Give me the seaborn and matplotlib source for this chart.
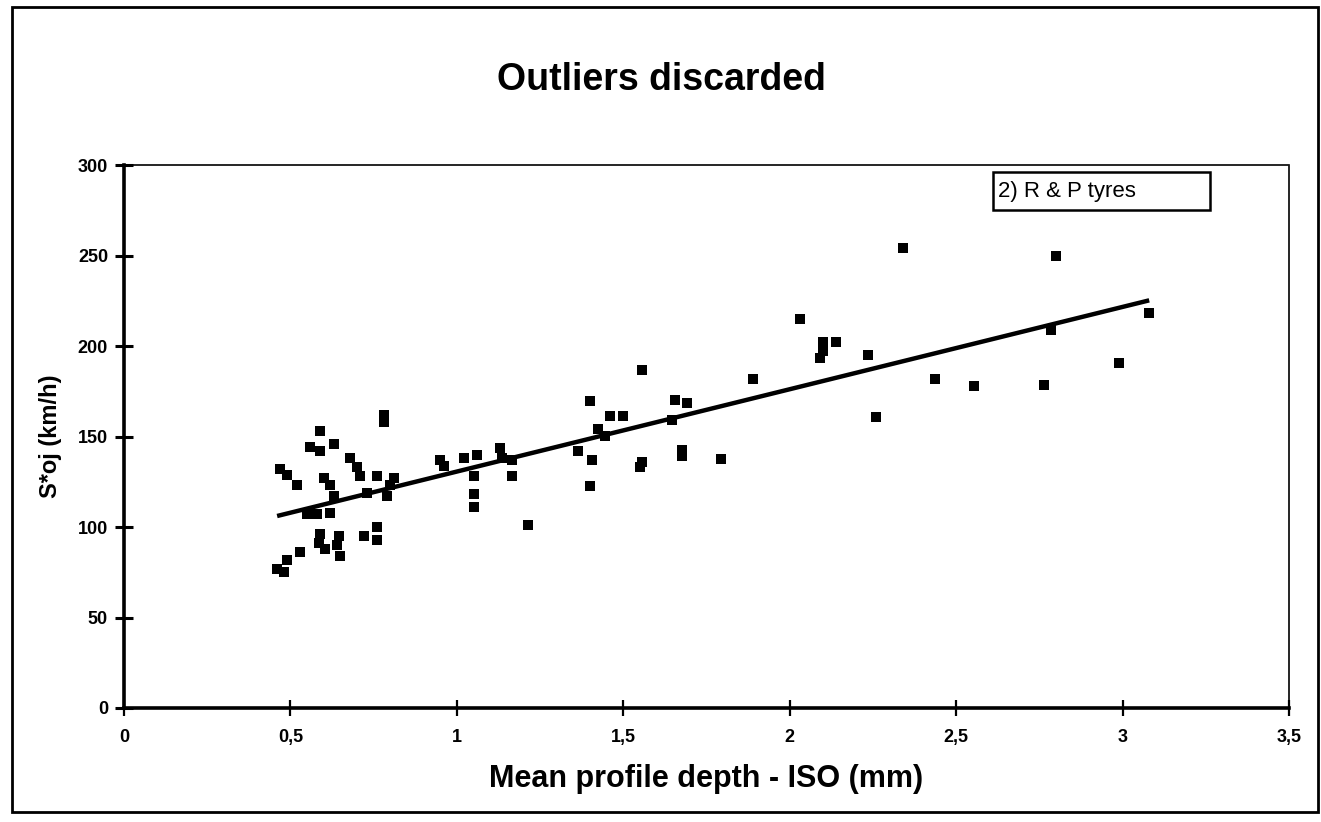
import matplotlib
matplotlib.use("Agg")
import matplotlib.pyplot as plt
from matplotlib.patches import Rectangle
import seaborn as sns
import pandas as pd

# ---- data ----
depth = [0.78, 0.78, 0.59, 0.63, 0.56, 0.59, 0.68, 0.70, 0.47, 0.49, 0.71, 0.76,
         0.81, 0.60, 0.62, 0.52, 0.80, 0.79, 0.73, 0.63, 0.55, 0.58, 0.62, 0.59,
         0.645, 0.585, 0.605, 0.64, 0.72, 0.76, 0.76, 0.65, 0.53, 0.49, 0.46, 0.48,
         1.40, 1.46, 1.50, 1.425, 1.445, 0.95, 0.96, 1.02, 1.06, 1.13, 1.135, 1.165,
         1.05, 1.165, 1.05, 1.05, 1.365, 1.405, 1.40, 1.55, 1.555, 1.215,
         2.34, 2.03, 2.10, 2.14, 2.10, 2.09, 2.235, 1.555, 1.89, 2.435, 1.655, 1.69,
         1.645, 2.26, 1.675, 1.675, 1.795,
         2.80, 3.08, 2.785, 2.99, 2.555, 2.765]
speed = [162, 158, 153, 146, 144, 142, 138, 133, 132, 129, 128, 128,
         127, 127, 123, 123, 123, 117, 119, 117, 107, 107, 108, 96,
         95, 91, 88, 90, 95, 100, 93, 84, 86, 82, 77, 75,
         169.5, 161.5, 161.5, 154, 150.5, 137, 133.5, 138, 140, 143.5, 138, 137,
         128, 128, 118.5, 111, 142, 137, 122.5, 133, 136, 101,
         254, 215, 202, 202, 197.5, 193.5, 195, 186.5, 182, 181.5, 170, 168.5,
         159, 160.5, 142.5, 139, 137.5,
         250, 218.5, 209, 190.5, 178, 178.5]

x_ticks = [0, 0.5, 1, 1.5, 2, 2.5, 3, 3.5]
x_tick_labels = ["0", "0,5", "1", "1,5", "2", "2,5", "3", "3,5"]
y_ticks = [0, 50, 100, 150, 200, 250, 300]
y_tick_labels = ["0", "50", "100", "150", "200", "250", "300"]

title_text = "Outliers discarded"
x_label = "Mean profile depth - ISO (mm)"
y_label = "S*oj (km/h)"
legend_text = "2) R & P tyres"

# ---- style ----
sns.set_theme(style="white")
plt.rcParams['font.family'] = ['Liberation Sans', 'DejaVu Sans']

W, H = 1321, 822
fig = plt.figure(figsize=(W / 100, H / 100), dpi=100)
fig.patch.set_facecolor("white")

ax_l, ax_r, ax_t, ax_b = 124, 1289, 165, 708
ax = fig.add_axes([ax_l / W, 1 - ax_b / H, (ax_r - ax_l) / W, (ax_b - ax_t) / H])
ax.set_facecolor("white")

df = pd.DataFrame({"depth": depth, "speed": speed})
sns.scatterplot(data=df, x="depth", y="speed", marker="s", s=58, color="black",
                edgecolor="black", linewidth=0, ax=ax, zorder=3, legend=False)
sns.regplot(data=df, x="depth", y="speed", scatter=False, ci=None, truncate=True,
            color="black", line_kws=dict(linewidth=3.2, solid_capstyle="butt"), ax=ax)

ax.set_xlim(0, 3.5)
ax.set_ylim(0, 300)
ax.set_xticks(x_ticks)
ax.set_xticklabels(x_tick_labels)
ax.set_yticks(y_ticks)
ax.set_yticklabels(y_tick_labels)

for side in ["left", "bottom"]:
    ax.spines[side].set_linewidth(2.6)
    ax.spines[side].set_color("black")
    ax.spines[side].set_visible(True)
for side in ["top", "right"]:
    ax.spines[side].set_linewidth(1.2)
    ax.spines[side].set_color("black")
    ax.spines[side].set_linestyle((0, (1, 1)))
    ax.spines[side].set_visible(True)

ax.tick_params(axis="y", direction="inout", length=13, width=2.2, colors="black",
               labelsize=13, pad=5, left=True)
ax.tick_params(axis="x", direction="inout", length=12, width=1.6, colors="black",
               labelsize=13, pad=9, bottom=True)
for lab in ax.get_xticklabels() + ax.get_yticklabels():
    lab.set_fontweight("bold")

ax.set_xlabel(x_label, fontsize=22, fontweight="bold", color="black")
ax.set_ylabel(y_label, fontsize=17, fontweight="bold", color="black")
ax.xaxis.set_label_coords(0.5, (ax_b - 779) / (ax_b - ax_t))
ax.xaxis.label.set_va("center")
ax.yaxis.set_label_coords((50 - ax_l) / (ax_r - ax_l), 0.5)
ax.yaxis.label.set_va("center")

# legend-like label box
bx0, by0, bx1, by1 = 993, 172, 1210, 210
ax.add_patch(Rectangle(((bx0 - ax_l) / (ax_r - ax_l), (ax_b - by1) / (ax_b - ax_t)),
                       (bx1 - bx0) / (ax_r - ax_l), (by1 - by0) / (ax_b - ax_t),
                       transform=ax.transAxes, facecolor="white", edgecolor="black",
                       linewidth=1.8, zorder=5, clip_on=False))
ax.text((998 - ax_l) / (ax_r - ax_l), (ax_b - (by0 + by1) / 2) / (ax_b - ax_t), legend_text,
        transform=ax.transAxes, ha="left", va="center", fontsize=16, color="black", zorder=6)

# title
fig.text(661 / W, 1 - 80 / H, title_text, ha="center", va="center",
         fontsize=27, fontweight="bold", color="black")

# outer frame
fig.patches.append(Rectangle((12 / W, 1 - 812 / H), 1306 / W, 805 / H, transform=fig.transFigure,
                             fill=False, edgecolor="black", linewidth=2))

fig.savefig("out.png", dpi=100, facecolor="white")
